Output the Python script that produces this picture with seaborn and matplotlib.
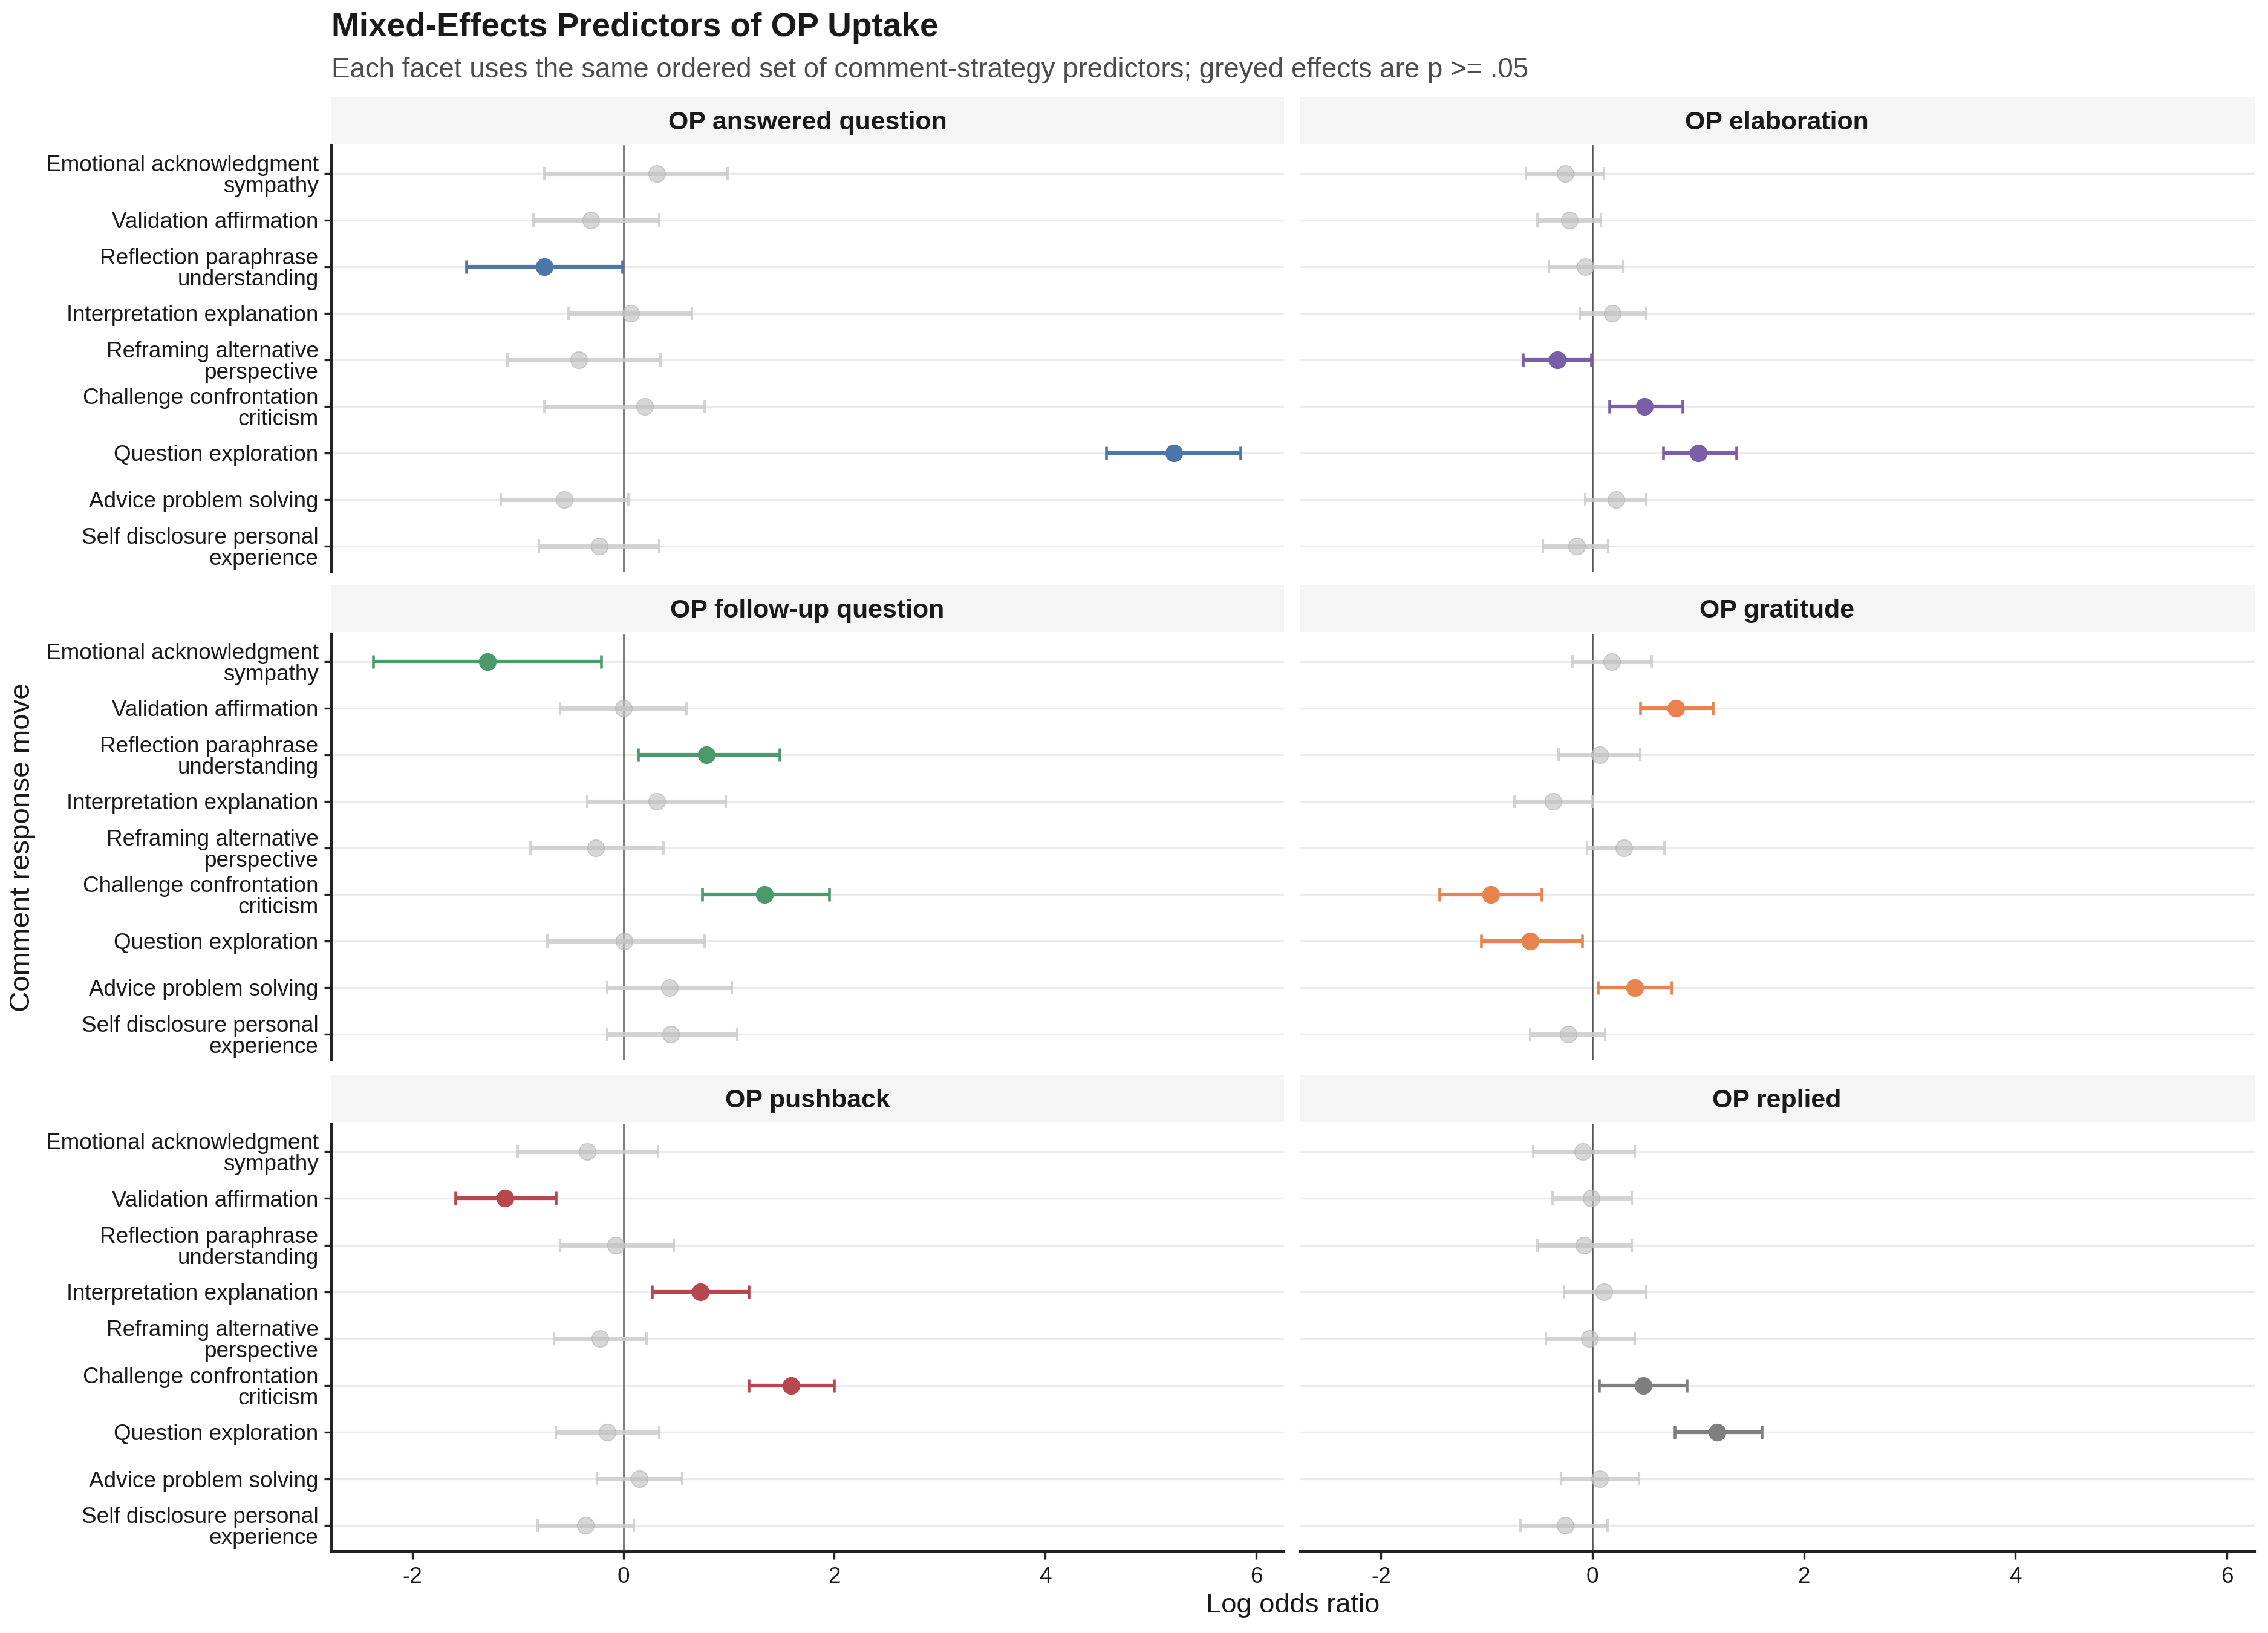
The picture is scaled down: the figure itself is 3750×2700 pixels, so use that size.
import numpy as np
import pandas as pd
import matplotlib.pyplot as plt
import seaborn as sns

# ----- chart data -----
predictors = ["Emotional acknowledgment\nsympathy", "Validation affirmation",
              "Reflection paraphrase\nunderstanding", "Interpretation explanation",
              "Reframing alternative\nperspective", "Challenge confrontation\ncriticism",
              "Question exploration", "Advice problem solving",
              "Self disclosure personal\nexperience"]

outcomes = ["OP answered question", "OP elaboration", "OP follow-up question",
            "OP gratitude", "OP pushback", "OP replied"]
outcome_colors = ["#4a76a8", "#7b5ea8", "#4b9a6c", "#e8834f", "#b6474f", "#7f7f7f"]

answered_est = [0.32, -0.31, -0.75, 0.07, -0.42, 0.20, 5.22, -0.56, -0.23]
answered_lo = [-0.75, -0.85, -1.49, -0.52, -1.10, -0.75, 4.58, -1.16, -0.80]
answered_hi = [0.99, 0.34, -0.01, 0.65, 0.35, 0.77, 5.85, 0.05, 0.34]
answered_sig = [0, 0, 1, 0, 0, 0, 1, 0, 0]

elab_est = [-0.26, -0.22, -0.07, 0.19, -0.33, 0.49, 1.00, 0.22, -0.15]
elab_lo = [-0.63, -0.52, -0.41, -0.12, -0.66, 0.16, 0.67, -0.07, -0.47]
elab_hi = [0.11, 0.08, 0.29, 0.51, -0.01, 0.85, 1.36, 0.51, 0.15]
elab_sig = [0, 0, 0, 0, 1, 1, 1, 0, 0]

followup_est = [-1.29, 0.00, 0.79, 0.32, -0.26, 1.34, 0.01, 0.44, 0.45]
followup_lo = [-2.37, -0.60, 0.14, -0.34, -0.88, 0.75, -0.72, -0.15, -0.15]
followup_hi = [-0.21, 0.60, 1.48, 0.97, 0.38, 1.95, 0.77, 1.03, 1.08]
followup_sig = [1, 0, 1, 0, 0, 1, 0, 0, 0]

gratitude_est = [0.18, 0.79, 0.07, -0.37, 0.30, -0.96, -0.59, 0.40, -0.23]
gratitude_lo = [-0.19, 0.45, -0.32, -0.74, -0.05, -1.45, -1.05, 0.05, -0.59]
gratitude_hi = [0.56, 1.14, 0.45, 0.00, 0.68, -0.48, -0.10, 0.75, 0.12]
gratitude_sig = [0, 1, 0, 0, 0, 1, 1, 1, 0]

pushback_est = [-0.34, -1.12, -0.07, 0.73, -0.22, 1.59, -0.15, 0.15, -0.36]
pushback_lo = [-1.00, -1.59, -0.60, 0.27, -0.66, 1.19, -0.64, -0.25, -0.81]
pushback_hi = [0.33, -0.64, 0.48, 1.19, 0.22, 2.00, 0.34, 0.56, 0.10]
pushback_sig = [0, 1, 0, 1, 0, 1, 0, 0, 0]

replied_est = [-0.09, -0.01, -0.08, 0.11, -0.03, 0.48, 1.18, 0.07, -0.26]
replied_lo = [-0.56, -0.38, -0.52, -0.27, -0.44, 0.06, 0.78, -0.30, -0.68]
replied_hi = [0.40, 0.37, 0.37, 0.51, 0.40, 0.89, 1.60, 0.44, 0.14]
replied_sig = [0, 0, 0, 0, 0, 1, 1, 0, 0]
# ----------------------

frames = []
for name, est, lo, hi, sig in [
        (outcomes[0], answered_est, answered_lo, answered_hi, answered_sig),
        (outcomes[1], elab_est, elab_lo, elab_hi, elab_sig),
        (outcomes[2], followup_est, followup_lo, followup_hi, followup_sig),
        (outcomes[3], gratitude_est, gratitude_lo, gratitude_hi, gratitude_sig),
        (outcomes[4], pushback_est, pushback_lo, pushback_hi, pushback_sig),
        (outcomes[5], replied_est, replied_lo, replied_hi, replied_sig)]:
    frames.append(pd.DataFrame({"outcome": name, "predictor": predictors,
                                "pos": np.arange(len(predictors)),
                                "est": est, "lo": lo, "hi": hi,
                                "sig": np.array(sig, dtype=bool)}))
df = pd.concat(frames, ignore_index=True)

sns.set_theme(style="white")
plt.rcParams["font.family"] = ["Liberation Sans", "DejaVu Sans"]

fig = plt.figure(figsize=(12.5, 9), dpi=300)

col_x = [(0.146, 0.420), (0.573, 0.421)]
row_y = [(0.650, 0.261), (0.351, 0.261), (0.050, 0.262)]
strip_h = 0.0285
grey = "#cdcdcd"

for k, name in enumerate(outcomes):
    r, c = divmod(k, 2)
    x0, w = col_x[c]
    y0, h = row_y[r]
    ax = fig.add_axes([x0, y0, w, h])
    sub = df[df["outcome"] == name]
    color = outcome_colors[k]

    for p in range(len(predictors)):
        ax.axhline(p, color="#ebebeb", lw=0.8, zorder=0)
    ax.axvline(0, color="#555555", lw=0.6, zorder=1)

    ns = sub[~sub["sig"]]
    ss = sub[sub["sig"]]
    ax.errorbar(ns["est"], ns["pos"],
                xerr=[ns["est"] - ns["lo"], ns["hi"] - ns["est"]],
                fmt="none", ecolor=grey, elinewidth=1.7, capsize=2.6,
                capthick=1.0, alpha=0.85, zorder=2)
    sns.scatterplot(data=ns, x="est", y="pos", ax=ax, color="#c2c2c2",
                    alpha=0.65, s=44, edgecolor="#b5b5b5", linewidth=0.4,
                    zorder=3, legend=False)
    ax.errorbar(ss["est"], ss["pos"],
                xerr=[ss["est"] - ss["lo"], ss["hi"] - ss["est"]],
                fmt="none", ecolor=color, elinewidth=1.5, capsize=2.6,
                capthick=1.1, zorder=4)
    sns.scatterplot(data=ss, x="est", y="pos", ax=ax, color=color,
                    s=44, edgecolor=color, linewidth=0.4, zorder=5, legend=False)

    ax.set_xlim(-2.77, 6.26)
    ax.set_ylim(len(predictors) - 0.45, -0.6)
    ax.set_xticks([-2, 0, 2, 4, 6])
    ax.set_yticks(np.arange(len(predictors)))
    ax.set_xlabel("")
    ax.set_ylabel("")
    for s in ["top", "right"]:
        ax.spines[s].set_visible(False)
    ax.spines["left"].set_visible(c == 0)
    ax.spines["bottom"].set_visible(r == 2)
    ax.spines["left"].set_color("#222222")
    ax.spines["bottom"].set_color("#222222")
    ax.spines["left"].set_linewidth(1.0)
    ax.spines["bottom"].set_linewidth(1.0)

    if c == 0:
        ax.set_yticklabels(predictors, fontsize=8.85, color="#1a1a1a",
                           linespacing=1.0)
        ax.tick_params(axis="y", length=3, width=0.8, color="#222222",
                       left=True, pad=2)
    else:
        ax.set_yticklabels([])
        ax.tick_params(axis="y", length=0)
    if r == 2:
        ax.set_xticklabels(["-2", "0", "2", "4", "6"], fontsize=8.85,
                           color="#1a1a1a")
        ax.tick_params(axis="x", length=3, width=0.8, color="#222222",
                       bottom=True, pad=3)
    else:
        ax.set_xticklabels([])
        ax.tick_params(axis="x", length=0)

    sax = fig.add_axes([x0, y0 + h + 0.001, w, strip_h])
    sax.set_facecolor("#f5f5f5")
    sax.set_xticks([])
    sax.set_yticks([])
    for s in sax.spines.values():
        s.set_visible(False)
    sax.text(0.5, 0.45, name, ha="center", va="center", fontsize=10.3,
             fontweight="bold", color="#1a1a1a", transform=sax.transAxes)

fig.text(0.146, 0.983, "Mixed-Effects Predictors of OP Uptake", fontsize=13.2,
         fontweight="bold", color="#1a1a1a", ha="left", va="center")
fig.text(0.146, 0.957,
         "Each facet uses the same ordered set of comment-strategy predictors; "
         "greyed effects are p >= .05",
         fontsize=10.95, color="#4d4d4d", ha="left", va="center")
fig.text(0.570, 0.017, "Log odds ratio", fontsize=10.9, color="#1a1a1a",
         ha="center", va="center")
fig.text(0.010, 0.481, "Comment response move", fontsize=11.4,
         color="#1a1a1a", ha="center", va="center", rotation=90)

fig.savefig("out.png", dpi=300)
